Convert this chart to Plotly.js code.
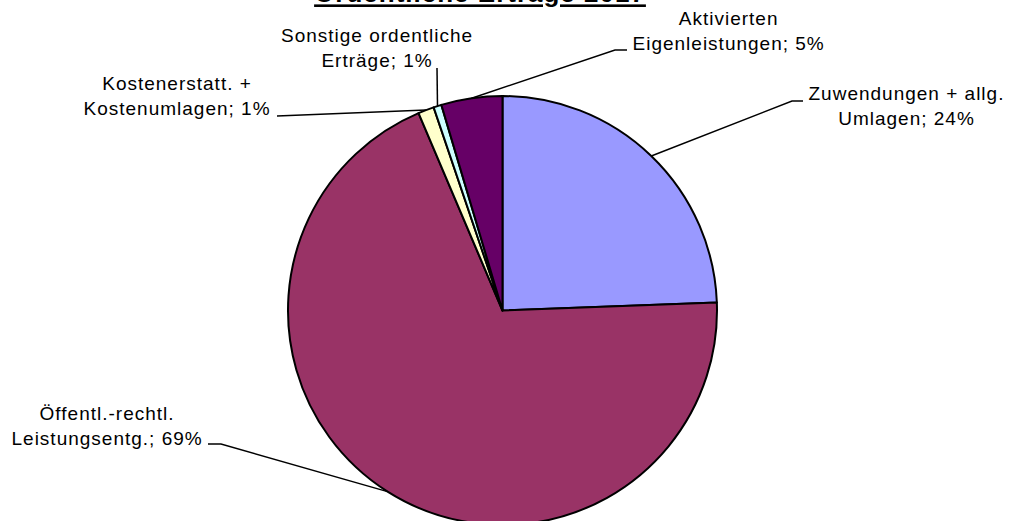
<!DOCTYPE html>
<html>
<head>
<meta charset="utf-8">
<script src="https://cdn.plot.ly/plotly-3.0.1.min.js"></script>
<style>
  html, body { margin: 0; padding: 0; overflow: hidden; background: #ffffff; }
  #chart { position: absolute; left: 0; top: -30px; width: 1009px; height: 560px; }
  #chart text { letter-spacing: 1px; }
</style>
</head>
<body>
<div id="chart"></div>
<script>
// ---- data ----
const categories = [
  "Zuwendungen + allg.<br>Umlagen",
  "Öffentl.-rechtl.<br>Leistungsentg.",
  "Kostenerstatt. +<br>Kostenumlagen",
  "Sonstige ordentliche<br>Erträge",
  "Aktivierten<br>Eigenleistungen"
];
const shares = [24.4, 69.2, 1.2, 0.6, 4.6];
const colors = ["#9999FF", "#993366", "#FFFFCC", "#CCFFFF", "#660066"];
const chartTitle = "Ordentliche Erträge 2017";

// ---- layout constants (screen pixels, y down) ----
const W = 1009, H = 560, OFF = 30;      // svg is shifted up by OFF px
const CX = 502.5, CY = 310.5, R = 214.5; // pie centre / radius on screen
// label placement: [centre x, middle y] and leader points (label side)
const labelPos = [
  [906, 106], [107, 426], [176.5, 96], [377, 48], [728, 31.5]
];
const leaderStart = [
  [[803, 101], [792, 101]],
  [[208, 444], [221, 444]],
  [[277, 116]],
  [[437, 68]],
  [[627, 50], [615, 50]]
];

const px = x => x / W;
const py = y => 1 - (y + OFF) / H;

const total = shares.reduce((a, b) => a + b, 0);
const texts = categories.map((c, i) => c + "; " + Math.round(shares[i] / total * 100) + "%");

// anchor points on the pie edge at each slice's mid angle (clockwise from 12 o'clock)
let cum = 0;
const anchors = shares.map(v => {
  const mid = (cum + v / 2) / total * 2 * Math.PI;
  cum += v;
  return [CX + R * Math.sin(mid), CY - R * Math.cos(mid)];
});

const annotations = texts.map((t, i) => ({
  text: t, xref: "paper", yref: "paper",
  x: px(labelPos[i][0]), y: py(labelPos[i][1]),
  xanchor: "center", yanchor: "middle", align: "center",
  showarrow: false,
  font: { family: "Liberation Sans, Arial, sans-serif", size: 19, color: "#000000" }
}));

const shapes = leaderStart.map((pts, i) => {
  const all = pts.concat([anchors[i]]);
  const d = all.map((p, k) => (k ? "L" : "M") + px(p[0]) + "," + py(p[1])).join(" ");
  return { type: "path", xref: "paper", yref: "paper", path: d,
           line: { color: "#000000", width: 1.5 } };
});

const trace = {
  type: "pie",
  labels: categories,
  values: shares,
  sort: false,
  direction: "clockwise",
  rotation: 0,
  textinfo: "none",
  hoverinfo: "label+percent",
  marker: { colors: colors, line: { color: "#000000", width: 2 } },
  domain: { x: [(CX - R) / W, (CX + R) / W], y: [py(CY + R), py(CY - R)] },
  showlegend: false
};

const layout = {
  width: W, height: H,
  margin: { l: 0, r: 0, t: 0, b: 0 },
  paper_bgcolor: "#ffffff",
  title: {
    text: "<b>" + chartTitle + "</b>",
    x: px(480), xanchor: "center",
    y: 1 - 23.3 / H, yref: "container", yanchor: "middle",
    font: { family: "Liberation Sans, Arial, sans-serif", size: 26, color: "#000000", lineposition: "under" }
  },
  annotations: annotations,
  shapes: shapes,
  showlegend: false
};

Plotly.newPlot("chart", [trace], layout, { staticPlot: true });
</script>
</body>
</html>
